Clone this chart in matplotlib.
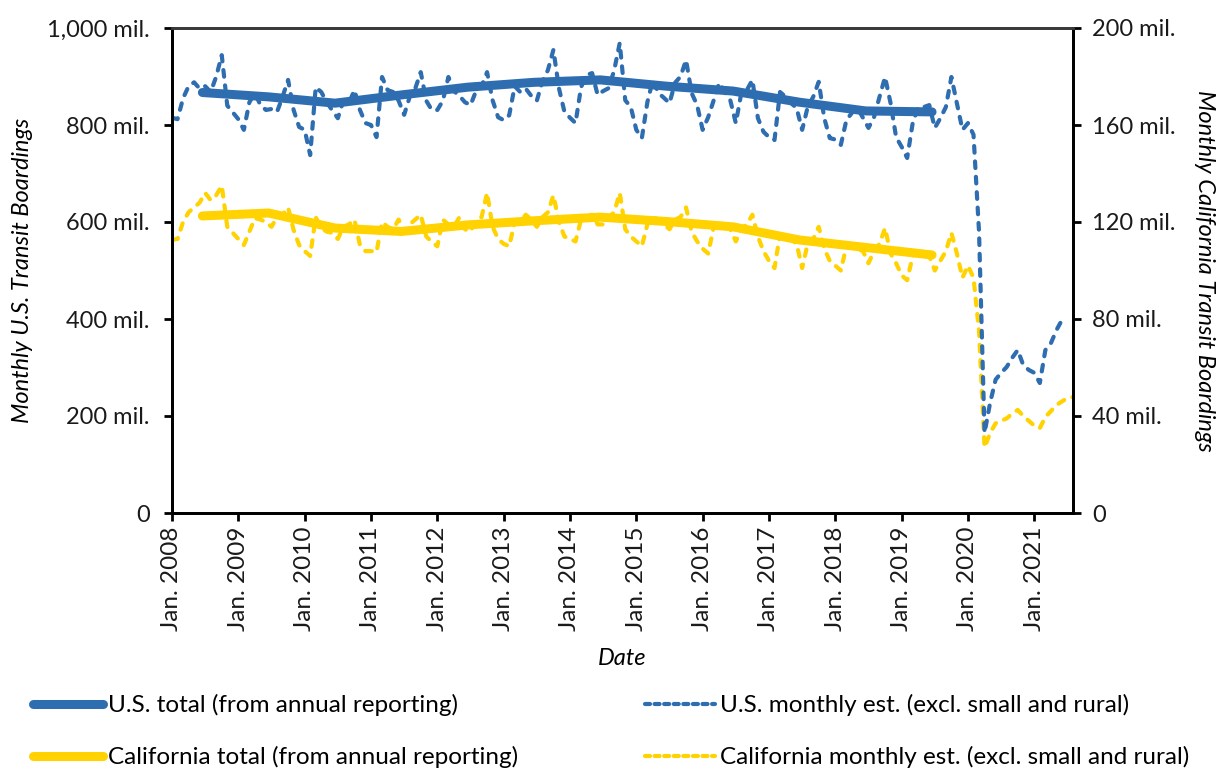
import numpy as np
import matplotlib
matplotlib.use("Agg")
import matplotlib.pyplot as plt
from matplotlib.lines import Line2D

plt.rcParams['font.family'] = ['Lato', 'DejaVu Sans']

# ---------------- data ----------------
tick_years = list(range(2008, 2022))
tick_labels = [f"Jan. {y}" for y in tick_years]

# U.S. monthly estimate (millions), Jan 2008 .. Aug 2021
us_monthly = [
    815, 812, 855, 880, 888, 875, 880, 868, 900, 944, 840, 826,   # 2008
    812, 790, 847, 866, 841, 831, 833, 827, 858, 893, 831, 796,   # 2009
    790, 738, 878, 868, 847, 830, 814, 850, 845, 872, 831, 804,   # 2010
    800, 775, 899, 872, 868, 850, 821, 858, 875, 909, 850, 831,   # 2011
    831, 850, 899, 870, 860, 847, 841, 870, 880, 909, 851, 816,   # 2012
    810, 820, 880, 868, 875, 860, 850, 890, 913, 955, 876, 827,   # 2013
    815, 804, 878, 903, 907, 862, 870, 876, 913, 969, 851, 837,   # 2014
    790, 773, 847, 893, 866, 856, 845, 887, 900, 934, 866, 841,   # 2015
    790, 816, 851, 887, 868, 851, 804, 866, 872, 893, 814, 786,   # 2016
    775, 769, 868, 858, 845, 835, 790, 837, 858, 889, 814, 773,   # 2017
    770, 759, 810, 825, 835, 815, 794, 816, 858, 899, 845, 775,   # 2018
    755, 732, 804, 837, 837, 841, 794, 814, 837, 899, 845, 790,   # 2019
    804, 780, 580, 165, 227, 275, 289, 301, 320, 336, 305, 295,   # 2020
    289, 268, 336, 350, 377, 398, np.nan, np.nan,                 # 2021
]

# California monthly estimate (millions), Jan 2008 .. Aug 2021
ca_monthly = [
    112.6, 113, 120, 124, 126, 128, 132, 129, 131, 135, 118, 115.5,   # 2008
    113, 110.5, 116, 121.6, 121, 120, 118, 122, 123, 126, 116.7, 110.5,  # 2009
    108, 106, 122, 117.5, 116, 115.5, 113, 118, 119, 121, 110.5, 108,  # 2010
    108, 107.6, 120, 118, 117, 121, 116, 119, 121, 123, 114, 111.8,    # 2011
    110, 121, 119, 118, 122, 117, 116, 121, 122, 132, 118, 113,        # 2012
    111, 110, 120, 120, 123, 121, 118, 122, 124, 131, 120, 114,        # 2013
    113, 112, 121, 122, 123, 119, 119, 122, 124, 132, 117, 114,        # 2014
    112, 110, 119, 122, 121, 119, 117, 121, 122, 126, 116, 112,        # 2015
    109, 107, 118, 119, 118, 117, 112, 117, 119, 123, 114, 108,        # 2016
    104, 101, 115, 114, 113, 111, 101, 111, 113, 118, 109, 104,        # 2017
    102, 100, 110, 110, 109, 108, 103, 108, 111, 117.5, 107, 103,      # 2018
    98, 96, 106, 108, 107, 106, 100, 104, 108, 115.5, 107, 97,         # 2019
    102, 97, 75, 27, 33, 37, 38, 39, 41, 42.5, 40, 38,                 # 2020
    36, 35, 39.6, 42, 44.5, 46, 47.4, 47.8,                            # 2021
]

# Annual totals (millions per month), plotted at mid-year 2008..2019
annual_years = list(range(2008, 2020))
us_total = [867, 858, 845, 862, 878, 888, 893, 880, 870, 847, 829, 827]
ca_total = [122.5, 123.7, 117.5, 116.1, 118.8, 120.5, 122.0, 120.2, 118.0, 112.6, 109.5, 106.4]

# ---------------- styling ----------------
BLUE = '#2E6DB0'
YELLOW = '#FFD200'

n_months = len(us_monthly)
x_month = np.arange(n_months)
x_annual = np.array([(y - 2008) * 12 + 5.5 for y in annual_years])
x_ticks = np.array([(y - 2008) * 12 for y in tick_years])

W, H = 1217, 774
fig = plt.figure(figsize=(W / 100, H / 100), dpi=100)
ax = fig.add_axes([172 / W, 1 - 513 / H, (1073 - 172) / W, (513 - 28) / H])
ax2 = ax.twinx()

lw_dash = 3.0
dash = (1.6, 2.1)
lw_tot = 6.5

# California on right axis
ax2.plot(x_month, ca_monthly, color=YELLOW, lw=lw_dash, dashes=dash,
         dash_capstyle='round', zorder=2)
ax2.plot(x_annual, ca_total, color=YELLOW, lw=lw_tot, solid_capstyle='round',
         solid_joinstyle='round', zorder=3)

# U.S. on left axis
ax.plot(x_month, us_monthly, color=BLUE, lw=lw_dash, dashes=dash,
        dash_capstyle='round', zorder=2)
ax.plot(x_annual, us_total, color=BLUE, lw=lw_tot, solid_capstyle='round',
        solid_joinstyle='round', zorder=3)

ax.set_zorder(ax2.get_zorder() + 1)
ax.patch.set_visible(False)

ax.set_xlim(0, n_months - 1)
ax.set_ylim(0, 1000)
ax2.set_ylim(0, 200)

left_ticks = [0, 200, 400, 600, 800, 1000]
left_labels = ['0', '200 mil.', '400 mil.', '600 mil.', '800 mil.', '1,000 mil.']
right_ticks = [0, 40, 80, 120, 160, 200]
right_labels = ['0', '40 mil.', '80 mil.', '120 mil.', '160 mil.', '200 mil.']

FS = 17
FSX = 17.5
FSL = 17.5
ax.set_yticks(left_ticks)
ax.set_yticklabels(left_labels, fontsize=FS)
ax2.set_yticks(right_ticks)
ax2.set_yticklabels(right_labels, fontsize=FS)
ax.set_xticks(x_ticks)
ax.set_xticklabels(tick_labels, rotation=90, fontsize=FSX)

for a in (ax, ax2):
    for s in a.spines.values():
        s.set_linewidth(2)
        s.set_color('black')
    a.spines['top'].set_color('#3a3a3a')
    a.tick_params(axis='both', length=6, width=2, color='black', labelcolor='#1a1a1a')
ax.tick_params(axis='y', pad=10)
ax2.tick_params(axis='y', pad=8)
ax.tick_params(axis='x', pad=4)

ax.set_ylabel('Monthly U.S. Transit Boardings', fontsize=FS, fontstyle='italic', labelpad=10)
ax2.set_ylabel('Monthly California Transit Boardings', fontsize=FS, fontstyle='italic',
               rotation=-90, labelpad=28)
ax.set_xlabel('Date', fontsize=FS, fontstyle='italic', labelpad=12)

# ---------------- legend ----------------
def add_leg(handle, label, x, y):
    return fig.legend([handle], [label], loc='center left',
                      bbox_to_anchor=(x / W, 1 - y / H), frameon=False,
                      fontsize=FSL, handlelength=2.9, handletextpad=0.2,
                      borderpad=0, borderaxespad=0)

h_ust = Line2D([], [], color=BLUE, lw=lw_tot, solid_capstyle='round')
h_usm = Line2D([], [], color=BLUE, lw=lw_dash, dashes=(1.2, 1.1), dash_capstyle='round')
h_cat = Line2D([], [], color=YELLOW, lw=lw_tot, solid_capstyle='round')
h_cam = Line2D([], [], color=YELLOW, lw=lw_dash, dashes=(1.2, 1.1), dash_capstyle='round')

add_leg(h_ust, 'U.S. total (from annual reporting)', 33, 705)
add_leg(h_usm, 'U.S. monthly est. (excl. small and rural)', 645, 705)
add_leg(h_cat, 'California total (from annual reporting)', 33, 757)
add_leg(h_cam, 'California monthly est. (excl. small and rural)', 645, 757)

fig.savefig('out.png', dpi=100)
